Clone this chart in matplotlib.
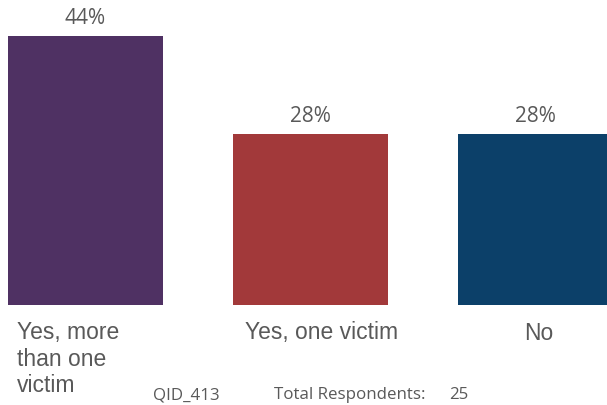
import matplotlib.pyplot as plt
import numpy as np

categories = ['Yes, more\nthan one\nvictim', 'Yes, one victim', 'No']
values = [44, 28, 28]
colors = ['#4F3163', '#A2393A', '#0C4069']
qid = 'QID_413'
total = 25

fig = plt.figure(figsize=(6.07, 4.05), dpi=100)
ax = fig.add_axes([0, 0, 1, 1])

x = np.arange(len(values))
ax.bar(x, values, width=0.69, color=colors)
ax.set_xlim(-0.38, 2.318)
ax.set_ylim(-16.4, 49.9)
ax.axis('off')

# value labels
for xi, v in zip(x, values):
    ax.text(xi, v + 1.1, f'{v}%', ha='center', va='bottom',
            fontsize=15, color='#595959', family='Open Sans')

# category labels (pixel positions from top-left)
def px(xp, yp):
    return xp / 607, 1 - yp / 405

fig.text(*px(17, 321), categories[0], ha='left', va='top', fontsize=16.5,
         color='#595959', family='Liberation Sans', linespacing=1.2)
fig.text(*px(322, 333), categories[1], ha='center', va='center', fontsize=16.5,
         color='#595959', family='Liberation Sans')
fig.text(*px(539, 333), categories[2], ha='center', va='center', fontsize=16.5,
         color='#595959', family='Liberation Sans')

# footer
fig.text(*px(153, 395), qid, ha='left', va='center', fontsize=12.2,
         color='#595959', family='Open Sans')
fig.text(*px(274, 395), 'Total Respondents:', ha='left', va='center', fontsize=12.2,
         color='#595959', family='Open Sans')
fig.text(*px(449, 395), str(total), ha='left', va='center', fontsize=12.2,
         color='#595959', family='Open Sans')

fig.savefig('out.png', dpi=100)
